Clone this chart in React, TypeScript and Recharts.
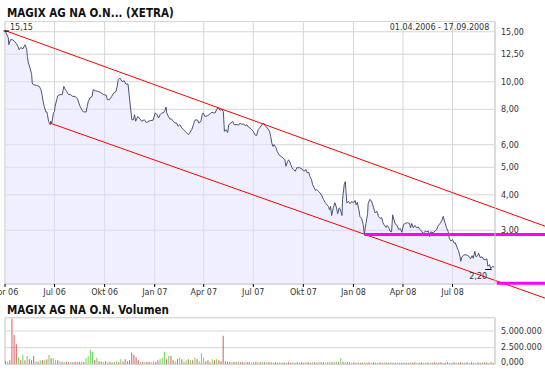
import React from 'react';
import {
  ComposedChart, Area, Bar, Cell, XAxis, YAxis, CartesianGrid,
  ReferenceLine, ReferenceArea, ReferenceDot,
} from 'recharts';

// ---- data ----
const xTickDays = [0, 91, 183, 275, 365, 456, 548, 640, 731, 822];
const xTickLabels = ['Apr 06', 'Jul 06', 'Okt 06', 'Jan 07', 'Apr 07', 'Jul 07', 'Okt 07', 'Jan 08', 'Apr 08', 'Jul 08'];
const priceTicks = [3, 4, 5, 6, 8, 10, 12.5, 15];
const volTicks = [0, 2500000, 5000000];
const volTickLabels = ['0,000', '2.500.000', '5.000.000'];

// days since 01.04.2006
const priceDays = [0,6,7,10,14,18,21,24,26,29,33,35,37,40,41,43,46,49,50,52,58,63,66,68,70,72,75,77,78,80,83,84,86,89,91,92,95,97,101,105,107,108,111,113,117,121,124,129,133,135,138,141,144,149,151,153,156,160,162,166,170,175,181,186,188,192,196,200,204,206,208,211,215,219,222,226,228,231,233,236,238,240,244,248,251,256,260,263,268,272,276,279,282,285,288,291,294,296,297,300,303,306,309,312,315,318,321,325,328,331,334,337,340,343,346,348,350,354,356,360,362,364,367,372,377,380,383,386,389,392,395,398,401,403,406,409,411,415,418,421,426,429,432,435,438,441,444,447,450,453,456,459,462,465,468,472,475,478,482,486,488,490,492,494,498,500,504,508,511,514,516,519,521,524,527,530,533,536,541,545,549,553,555,558,560,563,565,568,570,573,576,579,582,585,588,591,594,596,598,600,603,606,609,611,614,616,619,620,623,625,626,628,631,634,637,640,643,645,647,650,652,655,658,660,663,666,667,670,673,677,680,683,686,689,692,694,696,700,702,705,707,710,712,715,717,720,723,726,729,732,735,739,743,745,747,750,753,756,759,762,765,768,772,775,778,780,782,786,790,793,796,799,802,805,808,811,814,816,819,822,825,827,830,833,836,837,839,842,845,849,853,855,858,860,863,865,868,870,873,876,879,882,885,887,890,892,896,899];
const prices = [15.15,14.29,13.50,14.06,14.06,13.83,13.61,13.28,12.96,13.20,13.06,13.31,13.50,12.96,12.28,11.64,11.18,10.59,9.90,9.77,9.71,9.63,9.38,9.01,8.53,8.19,7.83,7.83,7.66,7.26,7.06,7.26,7.16,7.77,7.87,8.19,8.65,8.93,9.01,9.01,9.38,9.63,9.38,9.25,9.01,9.01,8.88,8.88,8.72,8.49,8.19,7.97,7.83,7.83,8.19,8.53,8.77,8.88,9.38,9.30,9.25,9.18,9.01,8.96,8.65,8.65,8.88,9.14,9.25,9.63,10.17,10.31,10.02,10.08,9.81,9.81,9.01,7.97,7.35,7.35,7.66,7.26,7.55,7.39,7.26,7.35,7.16,7.26,7.30,7.32,7.77,7.66,7.45,7.66,7.77,7.77,7.94,8.15,7.77,7.55,7.39,7.39,7.26,7.16,7.16,6.97,7.06,6.87,6.78,6.69,6.60,6.51,6.64,6.78,7.06,7.26,7.35,7.32,7.16,7.26,7.66,7.77,7.55,7.59,7.72,7.81,7.77,7.77,8.02,8.08,7.94,7.97,7.87,6.69,6.78,6.63,7.06,7.16,7.26,7.06,7.06,7.04,7.16,7.06,7.12,7.00,7.06,6.93,6.87,6.78,6.69,6.51,6.46,6.78,6.89,7.06,7.16,7.00,6.87,6.69,6.42,6.09,5.92,6.01,5.85,5.68,5.51,5.44,5.39,5.31,5.04,5.24,5.31,5.17,4.98,4.91,4.84,4.98,4.98,4.94,4.84,4.91,4.78,4.80,4.64,4.52,4.34,4.23,4.15,4.17,4.11,4.05,3.97,3.85,3.76,3.69,3.64,3.54,3.64,3.38,3.60,3.75,3.59,3.43,3.60,3.54,3.38,3.85,4.34,4.45,4.17,3.74,3.79,3.72,3.79,3.74,3.82,3.69,3.76,3.54,3.35,3.30,3.14,2.91,3.17,3.43,3.72,3.85,3.81,3.60,3.45,3.50,3.36,3.30,3.32,3.20,3.14,3.07,3.12,3.06,2.98,2.96,3.40,3.24,3.15,3.12,3.02,3.04,2.95,3.14,3.17,3.19,3.17,3.06,3.17,3.06,3.12,3.06,3.08,3.02,2.98,2.92,2.98,2.96,2.98,2.85,2.96,2.94,2.98,3.02,3.12,3.17,3.23,3.36,3.19,3.06,2.97,2.81,2.75,2.78,2.70,2.71,2.62,2.54,2.41,2.33,2.41,2.45,2.46,2.45,2.42,2.38,2.44,2.39,2.53,2.42,2.44,2.49,2.40,2.42,2.37,2.36,2.38,2.24,2.27,2.20,2.24,2.22];

const maxPoint = { day: 0, price: 15.15 };
const minPoint = { day: 892, price: 2.20 };
const upperTrend = [{ day: 0, price: 15.15 }, { day: 992, price: 3.10 }];
const lowerTrend = [{ day: 83, price: 7.15 }, { day: 992, price: 1.73 }];
const supportHigh = { from: 660, to: 992, price: 2.90 };
const supportLow = { from: 903, to: 992, price: 1.95 };

// volume, in thousands, one bar every 4 days
const volumeStepDays = 4;
const volumes = [
  500,400,600,6860,4400,3030,1060,600,1400,600,
  1260,750,600,1260,450,400,600,600,600,750,
  1400,900,900,600,600,450,400,350,400,300,
  350,300,400,300,350,400,350,900,1200,2170,
  1900,600,1000,450,400,350,450,300,400,350,
  300,450,300,750,400,750,450,600,1760,1400,
  1060,600,400,350,300,400,350,300,450,350,
  600,750,1000,1900,750,1260,1260,600,450,750,
  1000,750,400,600,750,600,600,1000,750,450,
  1670,1000,450,600,350,750,600,750,600,450,
  4300,450,400,350,300,350,300,400,300,350,
  300,350,300,250,300,350,300,300,350,300,
  300,350,300,250,300,250,300,250,300,250,
  300,250,300,250,300,250,300,250,350,300,
  250,300,300,250,350,300,300,250,300,350,
  300,350,400,350,900,400,300,350,300,250,
  300,250,300,250,250,300,250,300,250,300,
  250,250,300,250,300,250,250,300,250,250,
  300,250,250,300,250,250,300,250,300,250,
  250,300,250,250,300,250,250,300,250,250,
  300,250,250,300,250,250,300,250,250,300,
  250,250,300,250,300,250,250,300,250,300,
  250,300,250,300,250,
];
const volumeDir =
  'RGRRRRGRGR' + 'GRRRGRGRGR' + 'GRGGRGRGRR' + 'GRRRRGRGGG' + 'GRGRRGRGRG' +
  'RGRGRRRRRR' + 'RRGRGRRGGR' + 'RGGGRGRRGR' + 'GRGGRGRGRG' + 'GGRRGGRGRR' +
  'RRRRGRRGRR' + 'GRRGRRGRGR' + 'GRRGRRGRRG' + 'RRGRRGRRGR' + 'RGRRGRRGRG' +
  'RGGRGRGRRG' + 'RRGRRGRRGR' + 'RGRRGRRGRR' + 'GRRGRRGRRG' + 'RRGRRGRRGR' +
  'RGRRGRRGRR' + 'GRRGRRGRRG' + 'RRGRR';

// ---- styling ----
const GRID = '#D6D6D6';
const TEXT = '#333333';
const FONT = 'DejaVu Sans';
const RED = '#DD5A5A';
const GREEN = '#66D955';

const priceData = priceDays.map((day, i) => ({ day, price: prices[i] }));
const volData = volumes.map((v, i) => ({ day: i * volumeStepDays, vol: v * 1000, up: volumeDir[i] === 'G' }));

const fmt2 = (v: number) => v.toFixed(2).replace('.', ',');
const xLabel = (d: number) => xTickLabels[xTickDays.indexOf(d)] ?? '';

const MaxMarker = (p: any) => (
  <g>
    <line x1={p.cx - 1.5} y1={p.cy + 0.5} x2={p.cx + 4} y2={p.cy + 0.5} stroke="#000" strokeWidth={1} />
    <text x={p.cx + 5} y={p.cy - 1} fontSize={8} fill={TEXT} fontFamily={FONT}>{fmt2(maxPoint.price)}</text>
  </g>
);
const MinMarker = (p: any) => (
  <g>
    <line x1={p.cx - 5.5} y1={p.cy + 1} x2={p.cx + 1} y2={p.cy + 1} stroke="#000" strokeWidth={1} />
    <text x={p.cx - 3.5} y={p.cy + 10.5} fontSize={8} fill={TEXT} fontFamily={FONT} textAnchor="end">{fmt2(minPoint.price)}</text>
  </g>
);
const VolTick = (p: any) => {
  const v = p.payload.value;
  const label = volTickLabels[volTicks.indexOf(v)];
  return (
    <text x={p.x} y={p.y + (v === 0 ? -2.5 : 0)} dy="0.355em" textAnchor="start" fontSize={8} fill={TEXT} fontFamily={FONT}>{label}</text>
  );
};

export default function App() {
  return (
    <div style={{ position: 'absolute', left: 0, top: 0, width: 545, height: 370, background: '#fff', fontFamily: FONT, overflow: 'hidden' }}>
      <div style={{ position: 'absolute', left: 7, top: 6, fontSize: 11.5, fontWeight: 'bold', fontStretch: 'condensed', color: '#111', whiteSpace: 'nowrap' }}>
        MAGIX AG NA O.N... (XETRA)
      </div>
      <div style={{ position: 'absolute', left: 0, top: 0 }}>
        <ComposedChart width={545} height={300} data={priceData} margin={{ top: 21.5, right: 0, bottom: 0, left: 5 }}>
          <CartesianGrid stroke={GRID} />
          <XAxis type="number" dataKey="day" domain={[0, 900]} ticks={xTickDays} interval={0} tickFormatter={xLabel}
            height={16} tickSize={3} tickMargin={2} allowDataOverflow
            axisLine={{ stroke: GRID }} tickLine={{ stroke: '#000' }}
            tick={{ fontSize: 8, fill: TEXT, fontFamily: FONT }} />
          <YAxis orientation="right" scale="log" type="number" domain={[1.94, 16.3]} ticks={priceTicks} interval={0}
            tickFormatter={fmt2} width={50} tickSize={4} tickMargin={2} tickLine={false} allowDataOverflow
            axisLine={{ stroke: GRID }} tick={{ fontSize: 8, fill: TEXT, fontFamily: FONT }} />
          <ReferenceArea x1={0} x2={900} y1={1.94} y2={16.3} fill="none" stroke={GRID} ifOverflow="visible" />
          <Area type="linear" dataKey="price" stroke="#4A5377" strokeWidth={1} fill="#E0E0FF" fillOpacity={0.5}
            isAnimationActive={false} dot={false} activeDot={false} />
          <ReferenceLine segment={upperTrend.map(p => ({ x: p.day, y: p.price }))} stroke="#FF0000" strokeWidth={1} ifOverflow="visible" />
          <ReferenceLine segment={lowerTrend.map(p => ({ x: p.day, y: p.price }))} stroke="#FF0000" strokeWidth={1} ifOverflow="visible" />
          <ReferenceLine segment={[{ x: supportHigh.from, y: supportHigh.price }, { x: supportHigh.to, y: supportHigh.price }]} stroke="#FF00FF" strokeWidth={3} ifOverflow="visible" />
          <ReferenceLine segment={[{ x: supportLow.from, y: supportLow.price }, { x: supportLow.to, y: supportLow.price }]} stroke="#FF00FF" strokeWidth={3} ifOverflow="visible" />
          <ReferenceDot x={maxPoint.day} y={maxPoint.price} ifOverflow="visible" shape={MaxMarker} />
          <ReferenceDot x={minPoint.day} y={minPoint.price} ifOverflow="visible" shape={MinMarker} />
        </ComposedChart>
      </div>
      <div style={{ position: 'absolute', right: 55.7, top: 22.6, fontSize: 8, color: TEXT, whiteSpace: 'nowrap' }}>
        01.04.2006 - 17.09.2008
      </div>
      <div style={{ position: 'absolute', left: 7, top: 303.3, fontSize: 11.5, fontWeight: 'bold', fontStretch: 'condensed', color: '#111', whiteSpace: 'nowrap' }}>
        MAGIX AG NA O.N. Volumen
      </div>
      <div style={{ position: 'absolute', left: 0, top: 300 }}>
        <ComposedChart width={545} height={70} data={volData} margin={{ top: 17.7, right: 0, bottom: 4.7, left: 5 }}>
          <CartesianGrid stroke={GRID} />
          <XAxis type="number" dataKey="day" domain={[0, 900]} ticks={xTickDays} interval={0} height={1}
            tick={false} tickLine={false} axisLine={{ stroke: GRID }} allowDataOverflow />
          <YAxis orientation="right" type="number" domain={[0, 7000000]} ticks={volTicks} interval={0}
            width={50} tickSize={4} tickMargin={2} tickLine={false} axisLine={{ stroke: GRID }} allowDataOverflow
            tick={VolTick} />
          <ReferenceArea x1={0} x2={900} y1={0} y2={7000000} fill="none" stroke={GRID} ifOverflow="visible" />
          <Bar dataKey="vol" barSize={1} isAnimationActive={false}>
            {volData.map((d, i) => <Cell key={i} fill={d.up ? GREEN : RED} />)}
          </Bar>
        </ComposedChart>
      </div>
    </div>
  );
}
